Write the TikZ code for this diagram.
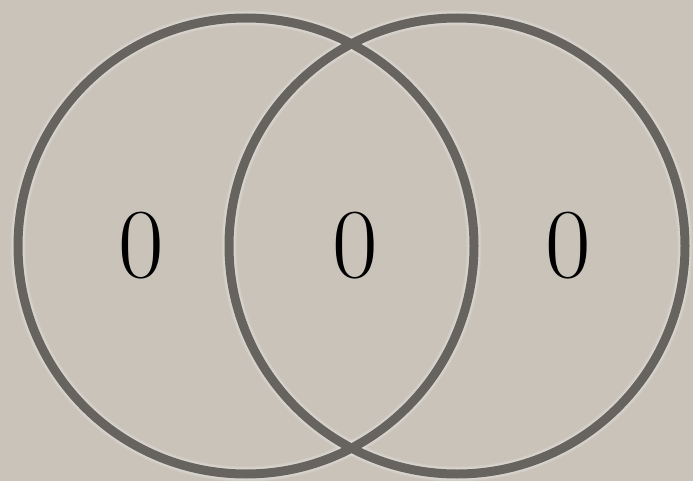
\documentclass[tikz,border=0pt]{standalone}
\usepackage{fix-cm}
\definecolor{bgc}{HTML}{C9C3BA}
\definecolor{ringc}{HTML}{676460}
\begin{document}
\begin{tikzpicture}[x=1pt,y=-1pt,
  ring/.style={draw=ringc,line width=9pt},
  halo/.style={draw=white,opacity=0.12,line width=#1},
  lbl/.style={font=\fontsize{99}{99}\selectfont,inner sep=0pt,text=black}]
\fill[bgc] (0,0) rectangle (693,481);
\useasboundingbox (0,0) rectangle (693,481);
\coordinate (cl) at (246,246);
\coordinate (cr) at (457,246);
\foreach \w in {11pt,13pt,15pt}{
  \draw[halo=\w] (cl) circle[radius=228];
  \draw[halo=\w] (cr) circle[radius=228];
}
\draw[ring] (cl) circle[radius=228];
\draw[ring] (cr) circle[radius=228];
\node[lbl] (a) at (141,246) {0};
\node[lbl] (b) at (355,246) {0};
\node[lbl] (c) at (568,246) {0};
\end{tikzpicture}
\end{document}
